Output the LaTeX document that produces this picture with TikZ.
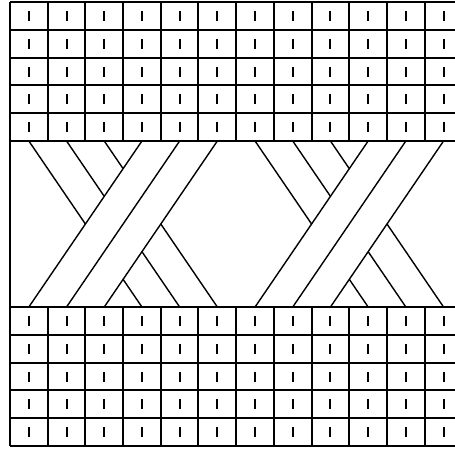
\documentclass[tikz,border=0pt]{standalone}
\usetikzlibrary{calc}
\tikzset{
  gridline/.style={line width=1.5pt, black},
  cable/.style={line width=1.4pt, black},
  tick/.style={line width=1.5pt, black},
}
\begin{document}
\begin{tikzpicture}[x=1pt,y=-1pt]
\useasboundingbox (0,0) rectangle (455,454);
\clip (0,0) rectangle (455,454);
\fill[white] (0,0) rectangle (455,454);
\def\cw{37.7}
\def\xl{10}
\def\rh{27.8}
\def\yt{141}
\def\yb{307}
% ---- top and bottom stitch grids
\foreach \yo in {2,307}{
  \foreach \k in {0,...,5}{
    \pgfmathsetmacro\yy{round(\yo+\k*\rh)}
    \draw[gridline] (\xl,\yy) -- (470,\yy);
  }
  \foreach \k in {0,...,11}{
    \pgfmathsetmacro\xx{round(\xl+\k*\cw)}
    \draw[gridline] (\xx,\yo) -- (\xx,{\yo+5*\rh});
  }
  \foreach \r in {0,...,4}{
    \foreach \c in {0,...,11}{
      \pgfmathsetmacro\xx{round(\xl+(\c+0.5)*\cw)}
      \pgfmathsetmacro\yy{round(\yo+(\r+0.5)*\rh)}
      \draw[tick] (\xx,\yy-5) -- (\xx,\yy+5);
    }
  }
}
% left border through the cable band
\draw[gridline] (\xl,2) -- (\xl,{307+5*\rh});
% ---- cable crossings
\foreach \o in {0,6}{
  \foreach \i in {0,1,2}{
    % front strand
    \coordinate (F) at ({\xl+(\o+\i+3.5)*\cw},\yt);
    \coordinate (G) at ({\xl+(\o+\i+0.5)*\cw},\yb);
    \draw[cable] (F) -- (G);
    % back strand, hidden where the front strand crosses it
    \pgfmathsetmacro\ta{(3-\i)/6}
    \pgfmathsetmacro\tb{(5-\i)/6}
    \coordinate (A) at ({\xl+(\o+\i+0.5)*\cw},\yt);
    \coordinate (B) at ({\xl+(\o+\i+3.5)*\cw},\yb);
    \draw[cable] (A) -- ($(A)!\ta!(B)$);
    \draw[cable] ($(A)!\tb!(B)$) -- (B);
  }
}
\end{tikzpicture}
\end{document}
